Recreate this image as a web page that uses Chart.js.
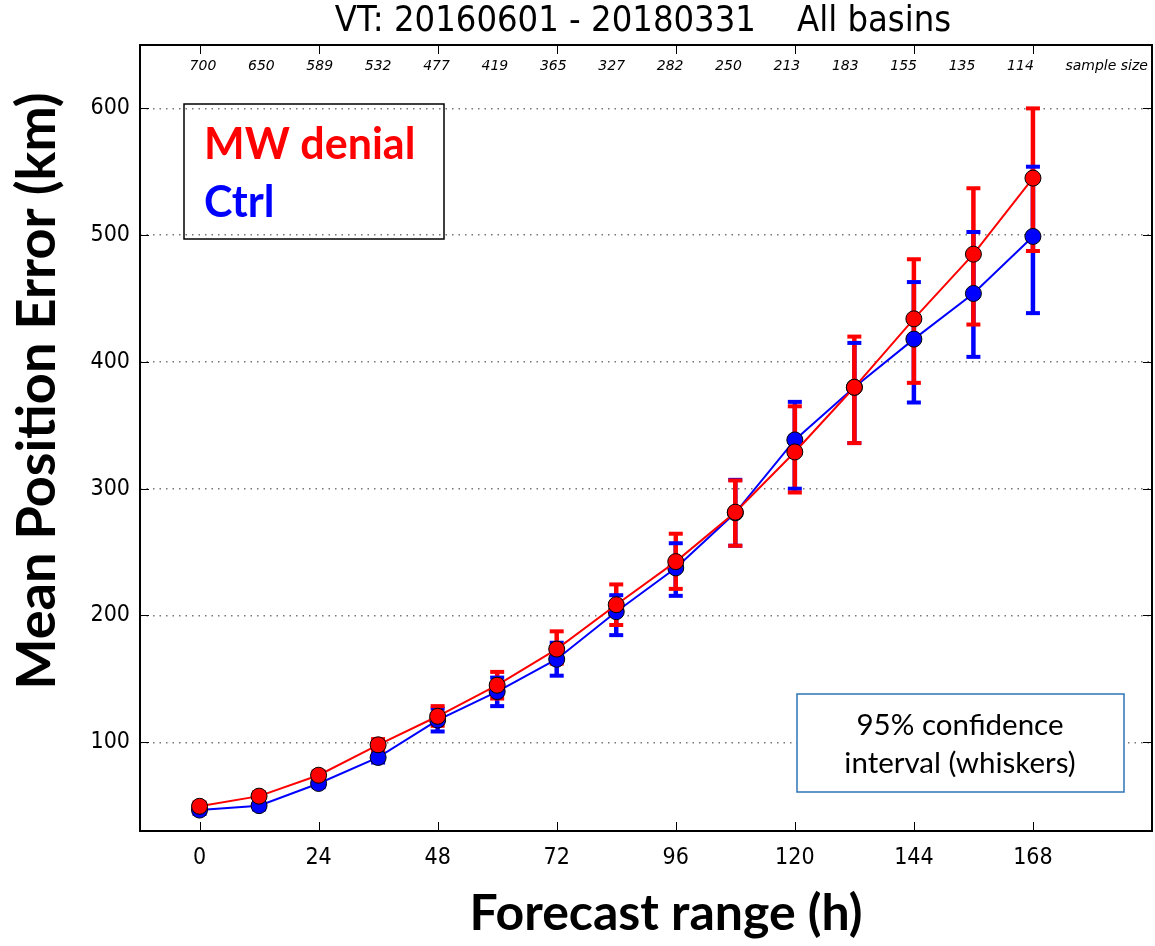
<!DOCTYPE html>
<html>
<head>
<meta charset="utf-8">
<script src="https://cdn.jsdelivr.net/npm/chart.js@4"></script>
<style>
  body { margin: 0; background: #fff; }
  canvas { display: block; }
</style>
</head>
<body>
<canvas id="errChart" width="1155" height="946"></canvas>
<script>
// forecast hours and sample sizes
const hours = [0, 12, 24, 36, 48, 60, 72, 84, 96, 108, 120, 132, 144, 156, 168];
const sampleSize = [700, 650, 589, 532, 477, 419, 365, 327, 282, 250, 213, 183, 155, 135, 114];

// MW denial (red): mean and 95% CI
const mwDenial = [49.5, 57.5, 74, 98, 120.5, 145, 173.5, 208.5, 242.5, 281.5, 329, 380, 434, 485, 545];
const mwLow    = [46.5, 54.5, 71, 93.5, 113, 134.5, 162, 192.5, 221, 255, 297, 336, 383.5, 429.5, 487.5];
const mwHigh   = [52.5, 60.5, 77, 102.5, 128.5, 155.5, 187.5, 224.5, 264.5, 306.5, 365, 420, 481, 537, 600];

// Ctrl (blue): mean and 95% CI
const ctrl     = [46.5, 50, 67.5, 88, 117.5, 140, 165.5, 203, 237.5, 281, 338.5, 380, 418, 454, 499];
const ctrlLow  = [43.5, 47, 64.5, 84, 108.5, 128.5, 152.5, 184.5, 215.5, 255, 300, 336, 368, 404, 438.5];
const ctrlHigh = [49.5, 53, 70.5, 92, 126.5, 151, 178.5, 216, 257, 307, 368.5, 415, 463, 502.5, 554];

const xTicks = [0, 24, 48, 72, 96, 120, 144, 168];
const yTicks = [100, 200, 300, 400, 500, 600];

const RED = '#ff0000';
const BLUE = '#0000ff';

function toPoints(vals) {
    return hours.map((h, i) => ({ x: h, y: vals[i] }));
}

// whiskers: bars first, then caps (caps sit over the other series' bar)
const errorBars = {
    id: 'errorBars',
    beforeDatasetsDraw(chart) {
        const ctx = chart.ctx;
        const xs = chart.scales.x, ys = chart.scales.y;
        const sets = [
            { low: ctrlLow, high: ctrlHigh, color: BLUE },
            { low: mwLow, high: mwHigh, color: RED }
        ];
        ctx.save();
        ctx.lineCap = 'butt';
        sets.forEach(s => {
            ctx.strokeStyle = s.color;
            ctx.lineWidth = 4.5;
            hours.forEach((h, i) => {
                const x = xs.getPixelForValue(h);
                ctx.beginPath();
                ctx.moveTo(x, ys.getPixelForValue(s.low[i]));
                ctx.lineTo(x, ys.getPixelForValue(s.high[i]));
                ctx.stroke();
            });
        });
        sets.forEach(s => {
            ctx.strokeStyle = s.color;
            ctx.lineWidth = 4;
            hours.forEach((h, i) => {
                const x = xs.getPixelForValue(h);
                [s.low[i], s.high[i]].forEach(v => {
                    const y = ys.getPixelForValue(v);
                    ctx.beginPath();
                    ctx.moveTo(x - 7, y);
                    ctx.lineTo(x + 7, y);
                    ctx.stroke();
                });
            });
        });
        ctx.restore();
    }
};

// frame, inward ticks, sample sizes, titles and text boxes
const decorations = {
    id: 'decorations',
    afterDraw(chart) {
        const ctx = chart.ctx;
        const a = chart.chartArea;
        const xs = chart.scales.x, ys = chart.scales.y;
        ctx.save();

        // inward tick marks on all four sides
        ctx.strokeStyle = '#000';
        ctx.lineWidth = 1;
        xTicks.forEach(t => {
            const x = Math.round(xs.getPixelForValue(t)) + 0.5;
            ctx.beginPath();
            ctx.moveTo(x, a.bottom); ctx.lineTo(x, a.bottom - 9);
            ctx.moveTo(x, a.top); ctx.lineTo(x, a.top + 9);
            ctx.stroke();
        });
        yTicks.forEach(t => {
            const y = Math.round(ys.getPixelForValue(t)) + 0.5;
            ctx.beginPath();
            ctx.moveTo(a.left, y); ctx.lineTo(a.left + 9, y);
            ctx.moveTo(a.right, y); ctx.lineTo(a.right - 9, y);
            ctx.stroke();
        });

        // plot frame
        ctx.lineWidth = 2;
        ctx.strokeRect(a.left, a.top, a.right - a.left, a.bottom - a.top);

        // sample size row
        ctx.fillStyle = '#000';
        ctx.font = 'italic 14px "DejaVu Sans"';
        ctx.textAlign = 'left';
        ctx.textBaseline = 'middle';
        const w = a.right - a.left;
        sampleSize.forEach((n, k) => {
            ctx.fillText(String(n), a.left + w * (0.049 + k * 0.0577), a.top + 21);
        });
        ctx.fillText('sample size', a.left + w * (0.049 + 15 * 0.0577), a.top + 21);

        // chart title
        ctx.font = '36px "DejaVu Sans Condensed", "DejaVu Sans"';
        ctx.textAlign = 'center';
        ctx.fillText('VT: 20160601 - 20180331    All basins', 643, 22);

        // axis titles
        ctx.font = 'bold 50px Lato';
        ctx.fillText('Forecast range (h)', 666, 914);
        ctx.save();
        ctx.translate(38, 391);
        ctx.rotate(-Math.PI / 2);
        ctx.font = 'bold 54px Lato';
        ctx.fillText('Mean Position Error (km)', 0, 0);
        ctx.restore();

        // series legend box (transparent, gridlines show through)
        ctx.strokeStyle = '#000';
        ctx.lineWidth = 1.5;
        ctx.strokeRect(184, 104, 260, 135);
        ctx.textAlign = 'left';
        ctx.textBaseline = 'alphabetic';
        ctx.font = 'bold 43px Lato';
        ctx.fillStyle = RED;
        ctx.fillText('MW denial', 204, 159);
        ctx.fillStyle = BLUE;
        ctx.fillText('Ctrl', 204, 217);

        // confidence interval note
        ctx.fillStyle = '#fff';
        ctx.fillRect(797, 694, 327, 98);
        ctx.strokeStyle = '#2e75b6';
        ctx.lineWidth = 1.5;
        ctx.strokeRect(797, 694, 327, 98);
        ctx.fillStyle = '#000';
        ctx.textAlign = 'center';
        ctx.font = '29.5px Lato';
        ctx.fillText('95% confidence', 960, 735);
        ctx.fillText('interval (whiskers)', 960, 773);

        ctx.restore();
    }
};

const tickFont = { family: '"DejaVu Sans Condensed", "DejaVu Sans"', size: 23 };

new Chart(document.getElementById('errChart'), {
    type: 'line',
    data: {
        datasets: [
            {
                label: 'MW denial',
                data: toPoints(mwDenial),
                borderColor: RED,
                borderWidth: 2,
                pointRadius: 8,
                pointBackgroundColor: RED,
                pointBorderColor: '#000',
                pointBorderWidth: 1
            },
            {
                label: 'Ctrl',
                data: toPoints(ctrl),
                borderColor: BLUE,
                borderWidth: 2,
                pointRadius: 8,
                pointBackgroundColor: BLUE,
                pointBorderColor: '#000',
                pointBorderWidth: 1
            }
        ]
    },
    options: {
        responsive: false,
        animation: false,
        devicePixelRatio: 1,
        layout: { autoPadding: false, padding: { top: 45, right: 3, left: 0, bottom: 0 } },
        plugins: { legend: { display: false }, tooltip: { enabled: false }, title: { display: false } },
        scales: {
            x: {
                type: 'linear',
                min: -12,
                max: 192,
                afterBuildTicks: s => { s.ticks = xTicks.map(v => ({ value: v })); },
                afterFit: s => { s.height = 115; },
                grid: { display: false, drawTicks: false },
                border: { display: false },
                ticks: { color: '#000', font: tickFont, padding: 13, maxRotation: 0 }
            },
            y: {
                type: 'linear',
                min: 30,
                max: 650,
                afterBuildTicks: s => { s.ticks = yTicks.map(v => ({ value: v })); },
                afterFit: s => { s.width = 140; },
                grid: { color: '#777', lineWidth: 1.5, drawTicks: false },
                border: { display: false, dash: [1.5, 5] },
                ticks: { color: '#000', font: tickFont, padding: 10 }
            }
        }
    },
    plugins: [errorBars, decorations]
});
</script>
</body>
</html>
